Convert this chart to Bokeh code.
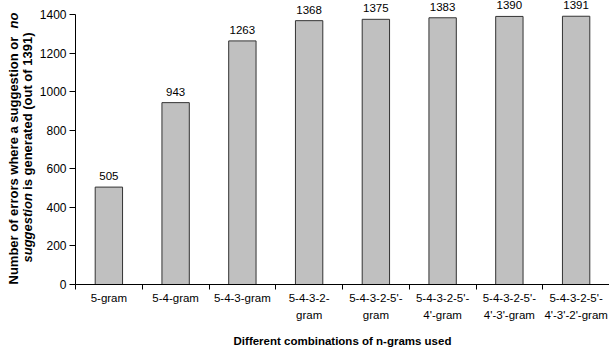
import math
from bokeh.plotting import figure
from bokeh.layouts import row
from bokeh.models import ColumnDataSource, LabelSet, FixedTicker
from bokeh.core.properties import value
from bokeh.embed import file_html
from bokeh.resources import INLINE

categories = ["5-gram", "5-4-gram", "5-4-3-gram", "5-4-3-2-\ngram", "5-4-3-2-5'-\ngram",
              "5-4-3-2-5'-\n4'-gram", "5-4-3-2-5'-\n4'-3'-gram", "5-4-3-2-5'-\n4'-3'-2'-gram"]
values = [505, 943, 1263, 1368, 1375, 1383, 1390, 1391]
y_ticks = [0, 200, 400, 600, 800, 1000, 1200, 1400]
y_title_line1 = ["Number of errors where a suggestion or", "no"]
y_title_line2 = ["suggestion", "is generated (out of 1391)"]
x_title = "Different combinations of n-grams used"

FONT = "Liberation Sans"
n = len(categories)
xs = [i + 0.5 for i in range(n)]

H = 356
FRAME_BOTTOM = 284   # screen y of the x axis
W_LEFT = 36

# ---- left strip holding the rotated, mixed-style y title ----
lt = figure(width=W_LEFT, height=H, x_range=(0, W_LEFT), y_range=(H - FRAME_BOTTOM, H),
            output_backend="svg", toolbar_location=None,
            x_axis_location=None, y_axis_location=None,
            min_border_left=0, min_border_right=0, min_border_top=0,
            min_border_bottom=H - FRAME_BOTTOM)
lt.outline_line_color = None
lt.grid.visible = False
tcommon = dict(angle=math.pi / 2, text_font=value(FONT), text_font_size="13px",
               text_color="#000000", text_baseline="middle")
lt.text(x=[13], y=[H - 284], text=[y_title_line1[0]], text_align="left",
        text_font_style="bold", **tcommon)
lt.text(x=[13], y=[H - 12], text=[y_title_line1[1]], text_align="right",
        text_font_style="bold italic", **tcommon)
lt.text(x=[27], y=[H - 262], text=[y_title_line2[0]], text_align="left",
        text_font_style="bold italic", **tcommon)
lt.text(x=[27], y=[H - 32], text=[y_title_line2[1]], text_align="right",
        text_font_style="bold", **tcommon)

# ---- main chart ----
src = ColumnDataSource(dict(x=xs, top=values, lab=[str(v) for v in values]))

y_top = 1400 * FRAME_BOTTOM / 270.0
p = figure(width=609 - W_LEFT, height=H, x_range=(0, n), y_range=(0, y_top),
           output_backend="svg", toolbar_location=None,
           min_border_left=74 - W_LEFT, min_border_right=0, min_border_top=0,
           min_border_bottom=H - FRAME_BOTTOM)
p.outline_line_color = None
p.grid.visible = False

p.vbar(x="x", top="top", width=0.41, bottom=0, source=src,
       fill_color="#C0C0C0", line_color="#333333", line_width=1)

labels = LabelSet(x="x", y="top", text="lab", source=src, y_offset=7,
                  text_align="center", text_baseline="bottom",
                  text_font=value(FONT), text_font_size="11.5px", text_color="#000000")
p.add_layout(labels)

xa = p.xaxis[0]
xa.ticker = FixedTicker(ticks=xs, minor_ticks=list(range(n + 1)))
xa.major_label_overrides = {x: c for x, c in zip(xs, categories)}
xa.major_tick_out = 0
xa.major_tick_in = 0
xa.minor_tick_out = 5
xa.minor_tick_in = 0
xa.minor_tick_line_color = "#000000"
xa.axis_line_color = "#000000"
xa.major_label_text_font = FONT
xa.major_label_text_font_size = "11.5px"
xa.major_label_text_color = "#000000"
xa.major_label_text_line_height = 1.45
xa.major_label_standoff = 2
xa.axis_label = x_title
xa.axis_label_text_font = FONT
xa.axis_label_text_font_size = "11.5px"
xa.axis_label_text_font_style = "bold"
xa.axis_label_text_color = "#000000"
xa.axis_label_standoff = 11

ya = p.yaxis[0]
ya.ticker = FixedTicker(ticks=y_ticks)
ya.bounds = (0, 1400)
ya.minor_tick_line_color = None
ya.major_tick_out = 6
ya.major_tick_in = 0
ya.major_tick_line_color = "#000000"
ya.axis_line_color = "#000000"
ya.major_label_text_font = FONT
ya.major_label_text_font_size = "12px"
ya.major_label_text_color = "#000000"
ya.major_label_standoff = 3

layout = row(lt, p, spacing=0)
open("out.html", "w").write(file_html(layout, INLINE))
